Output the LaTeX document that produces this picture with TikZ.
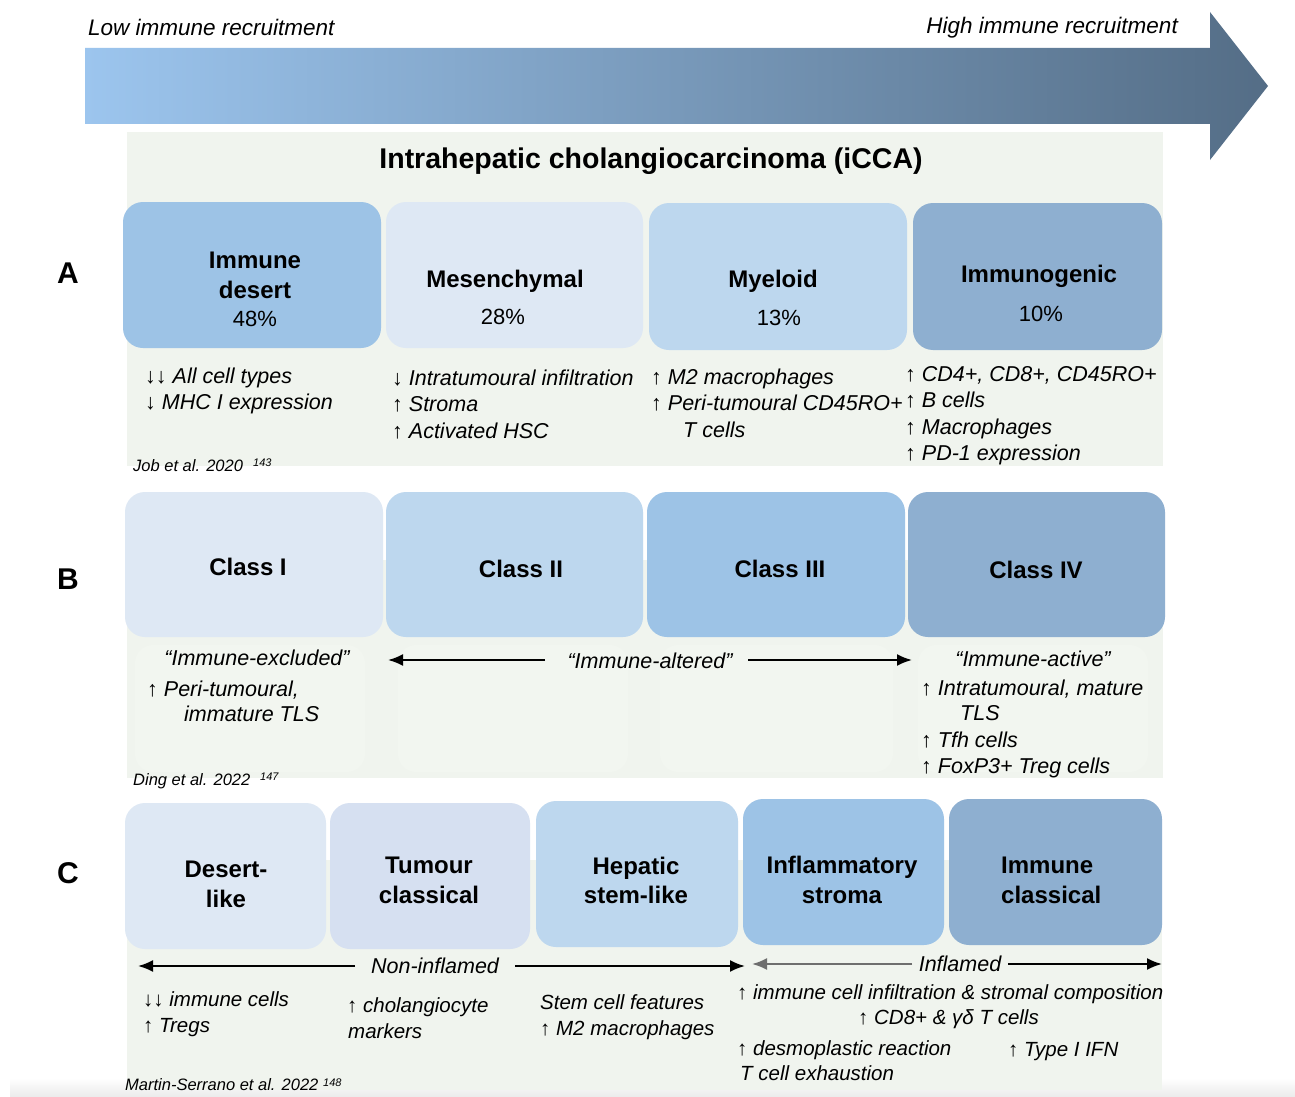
\documentclass[tikz,border=0pt]{standalone}
\usepackage{fontspec}
\setmainfont{Liberation Sans}
\usetikzlibrary{arrows.meta}
\definecolor{cA}{HTML}{DEE8F4}
\definecolor{cB}{HTML}{BDD7EE}
\definecolor{cC}{HTML}{9DC3E6}
\definecolor{cD}{HTML}{8EAFD0}
\definecolor{cT}{HTML}{D6E0F1}
\definecolor{bgp}{HTML}{F0F4EE}
\definecolor{bgs}{HTML}{F2F6F0}
\definecolor{arL}{HTML}{9CC5EE}
\definecolor{arR}{HTML}{546D86}
\definecolor{garr}{HTML}{6E6E6E}
\newcommand\myup{{\upshape ↑}}
\newcommand\mydn{{\upshape ↓}}
\begin{document}
\begin{tikzpicture}[x=1pt,y=-1pt,
  box/.style={rounded corners=20pt, inner sep=0pt, draw=none},
  lab/.style={font=\bfseries\fontsize{24}{28}\selectfont, anchor=base, inner sep=0pt},
  pct/.style={font=\fontsize{22}{26}\selectfont, anchor=base, inner sep=0pt},
  desc/.style={font=\itshape\fontsize{21.5}{26}\selectfont, anchor=base west, inner sep=0pt},
  descm/.style={font=\itshape\fontsize{21.5}{26}\selectfont, anchor=base, inner sep=0pt},
  descC/.style={font=\itshape\fontsize{20.5}{25}\selectfont, anchor=base west, inner sep=0pt},
  refs/.style={font=\itshape\fontsize{16.5}{20}\selectfont, anchor=base west, inner sep=0pt},
  supr/.style={font=\itshape\fontsize{11}{13}\selectfont, anchor=base west, inner sep=0pt},
  rowlab/.style={font=\bfseries\fontsize{30}{34}\selectfont, anchor=base, inner sep=0pt},
  arr/.style={line width=2pt, -{Latex[length=15pt,width=12pt]}}]
\useasboundingbox (0,0) rectangle (1295,1097);
\fill[white] (0,0) rectangle (1295,1097);
% bottom shadow band
\shade[top color=white, bottom color=black!8] (10,1078) rectangle (1295,1097);

% big gradient arrow
\shade[left color=arL, right color=arR] (85,48) -- (1210,48) -- (1210,12) -- (1268,86) -- (1210,160) -- (1210,124) -- (85,124) -- cycle;
\node[font=\itshape\fontsize{22.5}{26}\selectfont, anchor=base west, inner sep=0pt] (low) at (88,36) {Low immune recruitment};
\node[font=\itshape\fontsize{22.5}{26}\selectfont, anchor=base east, inner sep=0pt] (high) at (1178,34) {High immune recruitment};

% background panels
\fill[bgp] (127,132) rectangle (1163,466);
\fill[bgp] (127,560) rectangle (1163,778);
\fill[bgp] (127,860) rectangle (1162,1090);
% faint sub-panels row B
\foreach \a/\b in {135/365,398/628,660/893,918/1148}
  \fill[bgs, rounded corners=18pt] (\a,645) rectangle (\b,772);

\node[font=\bfseries\fontsize{28.5}{32}\selectfont, anchor=base, inner sep=0pt] (title) at (651,168) {Intrahepatic cholangiocarcinoma (iCCA)};

% row labels
\node[rowlab] (rA) at (68,283) {A};
\node[rowlab] (rB) at (68,589) {B};
\node[rowlab] (rC) at (68,883) {C};

% ---------- Row A ----------
\node[box, fill=cC, minimum width=258pt, minimum height=146pt] (a1) at (252,275) {};
\node[box, fill=cA, minimum width=257pt, minimum height=146pt] (a2) at (514.5,275) {};
\node[box, fill=cB, minimum width=258pt, minimum height=147pt] (a3) at (778,276.5) {};
\node[box, fill=cD, minimum width=249pt, minimum height=147pt] (a4) at (1037.5,276.5) {};
\node[lab] (a1t1) at (255,268) {Immune};
\node[lab] (a1t2) at (255,298) {desert};
\node[pct] (a1p) at (255,326) {48\%};
\node[lab] (a2t) at (505,287) {Mesenchymal};
\node[pct] (a2p) at (503,324) {28\%};
\node[lab] (a3t) at (773,287) {Myeloid};
\node[pct] (a3p) at (779,325) {13\%};
\node[lab] (a4t) at (1039,282) {Immunogenic};
\node[pct] (a4p) at (1041,321) {10\%};

\node[desc] (a1d1) at (145,383) {\mydn\mydn{} All cell types};
\node[desc] (a1d2) at (145,409) {\mydn{} MHC I expression};
\node[desc] (a2d1) at (392,385) {\mydn{} Intratumoural infiltration};
\node[desc] (a2d2) at (392,411) {\myup{} Stroma};
\node[desc] (a2d3) at (392,438) {\myup{} Activated HSC};
\node[desc] (a3d1) at (651,384) {\myup{} M2 macrophages};
\node[desc] (a3d2) at (651,410) {\myup{} Peri-tumoural CD45RO+};
\node[desc] (a3d3) at (683,437) {T cells};
\node[desc] (a4d1) at (905,381) {\myup{} CD4+, CD8+, CD45RO+};
\node[desc] (a4d2) at (905,407) {\myup{} B cells};
\node[desc] (a4d3) at (905,434) {\myup{} Macrophages};
\node[desc] (a4d4) at (905,460) {\myup{} PD-1 expression};
\node[refs] (refA) at (133,471) {Job et al. 2020};
\node[supr] (supA) at (253,466) {143};

% ---------- Row B ----------
\node[box, fill=cA, minimum width=258pt, minimum height=145pt] (b1) at (254,564.5) {};
\node[box, fill=cB, minimum width=257pt, minimum height=145pt] (b2) at (514.5,564.5) {};
\node[box, fill=cC, minimum width=258pt, minimum height=145pt] (b3) at (776,564.5) {};
\node[box, fill=cD, minimum width=257pt, minimum height=145pt] (b4) at (1036.5,564.5) {};
\node[lab] (b1t) at (248,575) {Class I};
\node[lab] (b2t) at (521,577) {Class II};
\node[lab] (b3t) at (780,577) {Class III};
\node[lab] (b4t) at (1036,578) {Class IV};

\node[descm] (excl) at (257,665) {“Immune-excluded”};
\node[desc] (b1d1) at (147,696) {\myup{} Peri-tumoural,};
\node[desc] (b1d2) at (184,721) {immature TLS};
\node[descm] (alt) at (650,668) {“Immune-altered”};
\coordinate (bLs) at (545,660);
\coordinate (bLe) at (388,660);
\coordinate (bRs) at (748,660);
\coordinate (bRe) at (912,660);
\draw[arr] (bLs) -- (bLe);
\draw[arr] (bRs) -- (bRe);
\node[descm] (act) at (1033,666) {“Immune-active”};
\node[desc] (b4d1) at (921,695) {\myup{} Intratumoural, mature};
\node[desc] (b4d2) at (960,720) {TLS};
\node[desc] (b4d3) at (921,747) {\myup{} Tfh cells};
\node[desc] (b4d4) at (921,773) {\myup{} FoxP3+ Treg cells};
\node[refs] (refB) at (133,785) {Ding et al. 2022};
\node[supr] (supB) at (260,780) {147};

% ---------- Row C ----------
\node[box, fill=cA, minimum width=201pt, minimum height=146pt] (c1) at (225.5,876) {};
\node[box, fill=cT, minimum width=200pt, minimum height=146pt] (c2) at (430,876) {};
\node[box, fill=cB, minimum width=202pt, minimum height=146pt] (c3) at (637,874) {};
\node[box, fill=cC, minimum width=201pt, minimum height=146pt] (c4) at (843.5,872) {};
\node[box, fill=cD, minimum width=213pt, minimum height=146pt] (c5) at (1055.5,872) {};
\node[lab] (c1t1) at (226,877) {Desert-};
\node[lab] (c1t2) at (226,907) {like};
\node[lab] (c2t1) at (429,873) {Tumour};
\node[lab] (c2t2) at (429,903) {classical};
\node[lab] (c3t1) at (636,874) {Hepatic};
\node[lab] (c3t2) at (636,903) {stem-like};
\node[lab] (c4t1) at (842,873) {Inflammatory};
\node[lab] (c4t2) at (842,903) {stroma};
\node[lab, anchor=base west] (c5t1) at (1001,873) {Immune};
\node[lab, anchor=base west] (c5t2) at (1001,903) {classical};

\node[descm] (noninf) at (435,973) {Non-inflamed};
\coordinate (cLs) at (355,966);
\coordinate (cLe) at (138,966);
\coordinate (cRs) at (515,966);
\coordinate (cRe) at (745,966);
\draw[arr] (cLs) -- (cLe);
\draw[arr] (cRs) -- (cRe);
\node[descm] (inf) at (960,971) {Inflamed};
\coordinate (gLs) at (912,964);
\coordinate (gLe) at (752,964);
\coordinate (iRs) at (1008,964);
\coordinate (iRe) at (1162,964);
\draw[arr, draw=garr] (gLs) -- (gLe);
\draw[arr] (iRs) -- (iRe);

\node[descC] (c1d1) at (143,1006) {\mydn\mydn{} immune cells};
\node[descC] (c1d2) at (143,1032) {\myup{} Tregs};
\node[descC] (c2d1) at (347,1012) {\myup{} cholangiocyte};
\node[descC] (c2d2) at (348,1038) {markers};
\node[descC] (c3d1) at (540,1009) {Stem cell features};
\node[descC] (c3d2) at (540,1035) {\myup{} M2 macrophages};
\node[descC] (c4d1) at (737,999) {\myup{} immune cell infiltration \& stromal composition};
\node[descC] (c4d2) at (858,1024) {\myup{} CD8+ \& γδ T cells};
\node[descC] (c4d3) at (737,1055) {\myup{} desmoplastic reaction};
\node[descC] (c4d4) at (740,1080) {T cell exhaustion};
\node[descC] (c5d1) at (1008,1056) {\myup{} Type I IFN};
\node[refs] (refC) at (125,1090) {Martin-Serrano et al. 2022};
\node[supr] (supC) at (323,1086) {148};
\end{tikzpicture}
\end{document}
